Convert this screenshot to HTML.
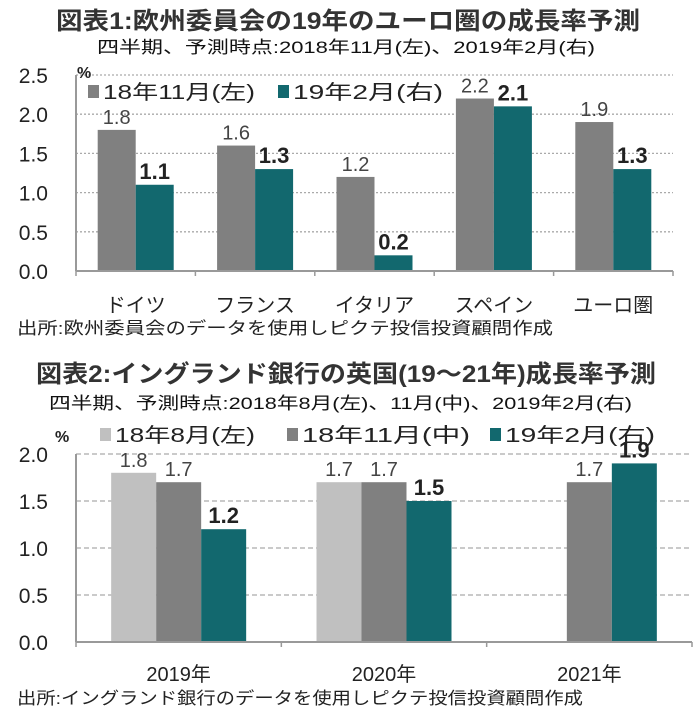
<!DOCTYPE html>
<html><head><meta charset="utf-8">
<style>
body{margin:0;background:#fff;}
svg{display:block;font-family:"Liberation Sans","Noto Sans CJK JP",sans-serif;}
</style></head>
<body>
<svg id="c" width="700" height="722" viewBox="0 0 700 722">
<g>
<text x="56" y="29" textLength="584" lengthAdjust="spacingAndGlyphs" font-size="24" font-weight="bold" fill="#333">図表1:欧州委員会の19年のユーロ圏の成長率予測</text>
<text x="97" y="53" textLength="498" lengthAdjust="spacingAndGlyphs" font-size="17" fill="#111">四半期、予測時点:2018年11月(左)、2019年2月(右)</text>
</g>
<g>
<text x="36" y="382" textLength="620" lengthAdjust="spacingAndGlyphs" font-size="24" font-weight="bold" fill="#333">図表2:イングランド銀行の英国(19～21年)成長率予測</text>
<text x="49" y="409" textLength="583" lengthAdjust="spacingAndGlyphs" font-size="17" fill="#111">四半期、予測時点:2018年8月(左)、11月(中)、2019年2月(右)</text>
</g>
<text x="17" y="334" textLength="536" lengthAdjust="spacingAndGlyphs" font-size="17" fill="#222">出所:欧州委員会のデータを使用しピクテ投信投資顧問作成</text>
<text x="17" y="704" textLength="566" lengthAdjust="spacingAndGlyphs" font-size="17" fill="#222">出所:イングランド銀行のデータを使用しピクテ投信投資顧問作成</text>
<g id="g1"></g><g id="g2"></g>
</svg>
<script>
const cats1=["ドイツ","フランス","イタリア","スペイン","ユーロ圏"];
const nov18=[1.8,1.6,1.2,2.2,1.9];
const feb19=[1.1,1.3,0.2,2.1,1.3];
const ticks1=[0,0.5,1,1.5,2,2.5];
const cats2=["2019年","2020年","2021年"];
const aug18b=[1.8,1.7,null];
const nov18b=[1.7,1.7,1.7];
const feb19b=[1.2,1.5,1.9];
const ticks2=[0,0.5,1,1.5,2];
const NS="http://www.w3.org/2000/svg";
function mk(p,t,a){const e=document.createElementNS(NS,t);for(const k in a)e.setAttribute(k,a[k]);p.appendChild(e);return e;}
function chart(g,cfg){
 const {x0,x1,y0,yTop,vmax,cats,series,ticks,dash,bw,labelY,legend}=cfg;
 const ys=v=>y0-(v/vmax)*(y0-yTop);
 const cw=(x1-x0)/cats.length;
 ticks.forEach(t=>{
  if(t>0){const l=mk(g,'line',{x1:x0,x2:x1,y1:ys(t),y2:ys(t),stroke:'#aaa','stroke-width':1.3,'stroke-dasharray':dash});
  
  }
  const tx=mk(g,'text',{x:x0-28,y:ys(t)+8,'text-anchor':'end','font-size':21,fill:'#222'});
  
  
  tx.textContent=t.toFixed(1);
 });
 const n=series.length;
 cats.forEach((c,i)=>{
  const cx=x0+cw*(i+0.5);
  series.forEach((s,j)=>{
   const v=s.vals[i]; if(v==null)return;
   const bx=cx-n*bw/2+j*bw;
   const r=mk(g,'rect',{x:bx,y:ys(v),width:bw,height:y0-ys(v),fill:s.color});
   
   
   const t=mk(g,'text',{x:bx+bw/2,y:ys(v)-6,'text-anchor':'middle','font-size':s.bold?22:20,'font-weight':s.bold?'bold':'normal',fill:s.bold?'#222':'#444'});
   
   
   t.textContent=v.toFixed(1);
  });
  const cl=mk(g,'text',{x:cx,y:labelY,'text-anchor':'middle','font-size':20,fill:'#222'});
  
  
  cl.textContent=c;
 });
 const ax=mk(g,'line',{x1:x0,x2:x0,y1:yTop,y2:y0,stroke:'#999','stroke-width':2});
 
 
 const bx=mk(g,'line',{x1:x0,x2:x1,y1:y0,y2:y0,stroke:'#999','stroke-width':2});
 
 
 for(let i=0;i<=cats.length;i++){const tk=mk(g,'line',{x1:x0+cw*i,x2:x0+cw*i,y1:y0,y2:y0+5,stroke:'#999','stroke-width':1.5});
  
  }
 legend.forEach(L=>{
  const sq=mk(g,'rect',{x:L.x,y:L.y-14,width:11,height:13,fill:L.color});
  
  
  const lt=mk(g,'text',{x:L.x+15,y:L.y,'font-size':20,fill:'#222',textLength:L.w,lengthAdjust:'spacingAndGlyphs'});
  
  
  lt.textContent=L.text;
 });
 const pc=mk(g,'text',{x:cfg.pctX,y:cfg.pctY,'font-size':16,'font-weight':'bold',fill:'#222'});
 
 
 pc.textContent='%';
}
const G='#808080',T='#12686e',L='#c0c0c0';
chart(document.getElementById('g1'),{x0:76,x1:673,y0:271,yTop:75,vmax:2.5,cats:cats1,ticks:ticks1,dash:'2 2',bw:38,labelY:312,
 series:[{key:'nov18',vals:nov18,color:G,bold:false},{key:'feb19',vals:feb19,color:T,bold:true}],
 legend:[{x:88,y:99,color:G,text:'18年11月(左)',w:152},{x:278,y:99,color:T,text:'19年2月(右)',w:150}],pctX:77,pctY:78});
chart(document.getElementById('g2'),{x0:76,x1:692,y0:642,yTop:454,vmax:2.0,cats:cats2,ticks:ticks2,dash:'5 3',bw:45,labelY:681,
 series:[{key:'aug18',vals:aug18b,color:L,bold:false},{key:'nov18',vals:nov18b,color:G,bold:false},{key:'feb19',vals:feb19b,color:T,bold:true}],
 legend:[{x:100,y:442,color:L,text:'18年8月(左)',w:140},{x:287,y:442,color:G,text:'18年11月(中)',w:168},{x:490,y:442,color:T,text:'19年2月(右)',w:150}],pctX:55,pctY:442});
</script>
</body></html>
